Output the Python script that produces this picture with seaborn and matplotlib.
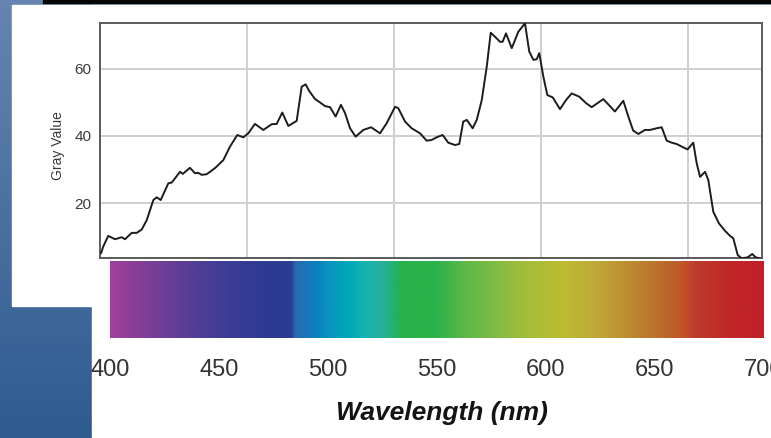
import numpy as np
import matplotlib
matplotlib.use("Agg")
import matplotlib.pyplot as plt
import seaborn as sns
from matplotlib.colors import LinearSegmentedColormap
from matplotlib.patches import Rectangle
from matplotlib import font_manager

# ---------------- data ----------------
distance = [0.007, 0.022, 0.056, 0.102, 0.148, 0.170, 0.216, 0.250, 0.284, 0.318,
            0.363, 0.386, 0.413, 0.465, 0.488, 0.544, 0.563, 0.612, 0.646, 0.669,
            0.692, 0.726, 0.782, 0.839, 0.884, 0.934, 0.975, 1.009, 1.054, 1.111,
            1.168, 1.202, 1.240, 1.281, 1.338, 1.372, 1.399, 1.422, 1.463, 1.497,
            1.531, 1.565, 1.603, 1.639, 1.667, 1.701, 1.739, 1.791, 1.844, 1.905,
            1.950, 2.007, 2.029, 2.075, 2.120, 2.177, 2.222, 2.256, 2.290, 2.331,
            2.369, 2.415, 2.444, 2.471, 2.495, 2.535, 2.563, 2.597, 2.631, 2.658,
            2.687, 2.721, 2.739, 2.762, 2.801, 2.846, 2.891, 2.920, 2.948, 2.971,
            2.988, 3.016, 3.043, 3.080, 3.129, 3.170, 3.209, 3.261, 3.306, 3.345,
            3.401, 3.424, 3.469, 3.503, 3.560, 3.594, 3.627, 3.662, 3.707, 3.741,
            3.787, 3.821, 3.855, 3.889, 3.923, 3.968, 3.997, 4.036, 4.059, 4.082,
            4.116, 4.138, 4.172, 4.211, 4.252, 4.286, 4.308, 4.338, 4.365, 4.406,
            4.437, 4.460, 4.490]
gray_value = [5.0, 7.0, 10.2, 9.2, 9.8, 9.2, 11.1, 11.1, 12.1, 14.9,
              20.9, 21.7, 20.9, 25.9, 26.1, 29.3, 28.7, 30.5, 28.9, 29.0,
              28.4, 28.6, 30.4, 32.8, 36.8, 40.3, 39.6, 40.8, 43.6, 41.8,
              43.5, 43.6, 47.0, 43.0, 44.5, 54.7, 55.4, 53.5, 51.0, 50.0,
              48.9, 48.6, 45.8, 49.3, 46.8, 42.3, 39.8, 41.8, 42.6, 40.8,
              43.8, 48.7, 48.3, 44.3, 42.3, 40.8, 38.6, 38.8, 39.6, 40.3,
              38.0, 37.3, 37.6, 44.3, 44.8, 42.3, 44.8, 50.7, 60.7, 70.8,
              69.6, 68.1, 68.1, 70.6, 66.2, 71.1, 73.6, 65.2, 62.7, 62.9,
              64.7, 57.7, 52.2, 51.5, 48.0, 50.7, 52.7, 51.7, 49.8, 48.6,
              50.3, 51.0, 48.9, 47.3, 50.5, 45.8, 41.6, 40.6, 41.8, 41.8,
              42.3, 42.6, 38.6, 38.0, 37.6, 36.6, 36.0, 38.0, 31.9, 27.8,
              29.3, 26.9, 17.4, 13.9, 11.7, 10.2, 9.5, 4.5, 3.5, 3.8,
              4.8, 3.8, 3.5]
gray_ticks = [20, 40, 60]
wavelength_ticks = [400, 450, 500, 550, 600, 650, 700]
spectrum_nm = [400, 410, 426, 441, 456, 472, 483, 485, 495, 502, 510, 518, 525,
               530, 534, 550, 562, 577, 593, 608, 623, 639, 654, 663, 669, 684, 700]
spectrum_colors = ['#a2409b', '#8c3f98', '#6b3d96', '#4e3e96', '#393c94', '#2e3a92',
                   '#2c3c93', '#2a6ab2', '#0a82c0', '#0a98c0', '#00aab8', '#18b4ae',
                   '#28b098', '#22b070', '#28b04a', '#2bb34a', '#5ab848', '#80bc44',
                   '#a8be38', '#bcbc30', '#c0a838', '#bc8a30', '#bc6a2c', '#c05428',
                   '#bc3c2c', '#c02828', '#c01f28']

# ---------------- style ----------------
sns.set_theme(style="white")
names = {f.name for f in font_manager.fontManager.ttflist}
narrow = 'Liberation Sans Narrow' if 'Liberation Sans Narrow' in names else 'Liberation Sans'
plt.rcParams['font.family'] = ['Liberation Sans', 'DejaVu Sans']

W, H = 771, 438
fig = plt.figure(figsize=(W / 100, H / 100), dpi=100)

# background
bg = fig.add_axes([0, 0, 1, 1])
bg.set_xlim(0, W)
bg.set_ylim(H, 0)
bg.axis('off')
grad = np.linspace(0, 1, 256)[:, None]
bg_cmap = LinearSegmentedColormap.from_list('bg', ['#6685b0', '#2e5b90'])
bg.imshow(grad, cmap=bg_cmap, extent=[0, W, H, 0], aspect='auto', zorder=0)
bg.add_patch(Rectangle((12, 5), W - 12, 301, color='white', zorder=1))
bg.add_patch(Rectangle((92, 5), W - 92, H - 5, color='white', zorder=1))
bg.add_patch(Rectangle((43, 0), W - 43, 3.3, color='#050505', zorder=2))

# main plot
ax = fig.add_axes([100 / W, 1 - 258 / H, 662 / W, 235 / H])
ax.set_facecolor('white')
sns.lineplot(x=distance, y=gray_value, ax=ax, color='#1c1c1c', lw=1.4, zorder=3)
ax.set_xlim(0, 662 / 147)
ax.set_ylim(3.6, 73.7)
ax.set_xticks([1, 2, 3, 4])
ax.set_xticklabels([])
ax.set_yticks(gray_ticks)
ax.set_yticklabels([str(v) for v in gray_ticks])
ax.grid(True, color='#cfcfcf', lw=1.4, zorder=0)
for s in ax.spines.values():
    s.set_color('#5a5a5a')
    s.set_linewidth(1.4)
ax.tick_params(axis='x', length=0)
ax.tick_params(axis='y', length=0, pad=6, labelsize=11, labelcolor='#3a3a3a')
ax.set_ylabel('Gray Value', fontsize=10, color='#3a3a3a', family=[narrow, 'DejaVu Sans'])
ax.yaxis.set_label_coords((65 - 100) / 662, (258 - 146) / 235)

# spectrum bar
sx = fig.add_axes([110 / W, 1 - 338 / H, 654 / W, 77 / H])
lo, hi = spectrum_nm[0], spectrum_nm[-1]
stops = [((n - lo) / (hi - lo), c) for n, c in zip(spectrum_nm, spectrum_colors)]
spec_cmap = LinearSegmentedColormap.from_list('spec', stops, N=1024)
sx.imshow(np.linspace(lo, hi, 1200)[None, :], cmap=spec_cmap, vmin=lo, vmax=hi,
          extent=[lo, hi, 0, 1], aspect='auto')
sx.set_xlim(lo, hi)
sx.set_ylim(0, 1)
sx.set_yticks([])
sx.set_xticks(wavelength_ticks)
sx.set_xticklabels([str(t) for t in wavelength_ticks], family=[narrow, 'DejaVu Sans'])
sx.tick_params(axis='x', length=7, width=1.3, color='#a0a0a0', pad=8,
               labelsize=17, labelcolor='#333333')
for s in sx.spines.values():
    s.set_visible(False)

fig.text(442 / W, 1 - 413 / H, 'Wavelength (nm)', ha='center', va='center',
         fontsize=19, fontweight='bold', fontstyle='italic', color='#141414',
         family=[narrow, 'DejaVu Sans'])

fig.savefig('out.png', dpi=100)
